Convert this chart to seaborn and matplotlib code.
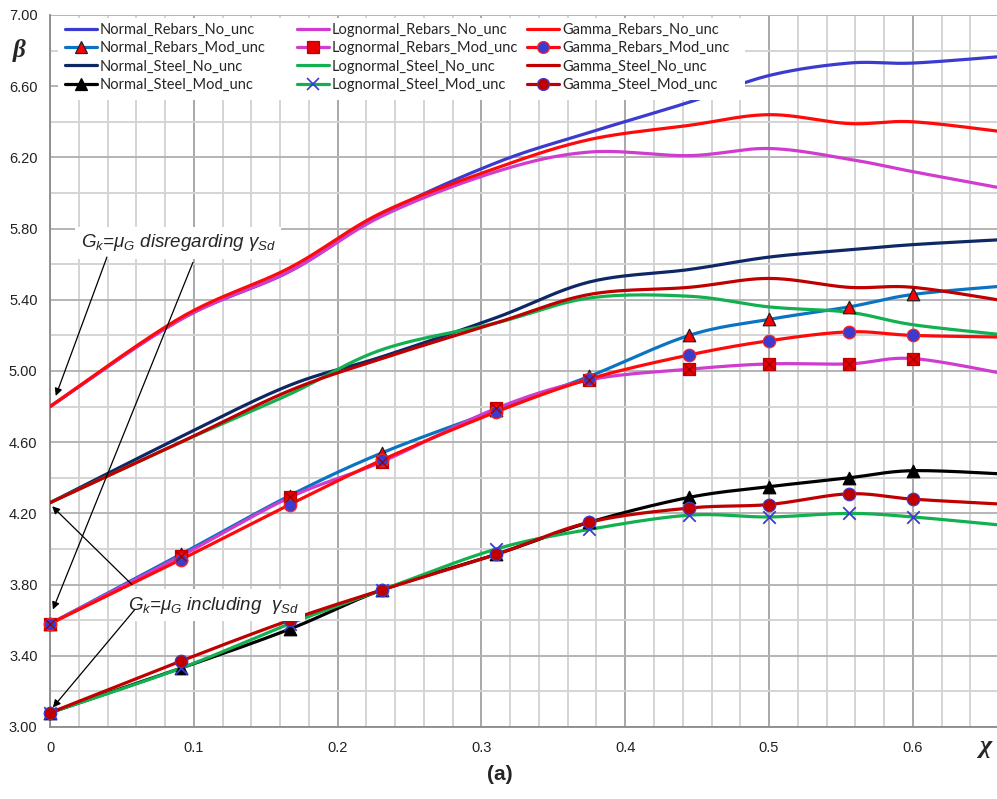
import numpy as np
import seaborn as sns
import matplotlib.pyplot as plt
from matplotlib.lines import Line2D
from matplotlib.patches import Rectangle
from matplotlib.ticker import MultipleLocator, FormatStrFormatter

# chi = Qk / (Gk + Qk)
chi = [0, 0.0909, 0.1667, 0.2308, 0.3103, 0.375, 0.4444, 0.5, 0.5556, 0.6, 0.6667]

normal_rebars_no = [4.80, 5.29, 5.56, 5.88, 6.17, 6.34, 6.51, 6.66, 6.73, 6.73, 6.77]
normal_rebars_mod = [3.58, 3.97, 4.30, 4.54, 4.78, 4.97, 5.20, 5.29, 5.36, 5.43, 5.48]
normal_steel_no = [4.26, 4.63, 4.92, 5.08, 5.30, 5.50, 5.57, 5.64, 5.68, 5.71, 5.74]
normal_steel_mod = [3.08, 3.33, 3.55, 3.77, 3.97, 4.15, 4.29, 4.35, 4.40, 4.44, 4.42]

lognormal_rebars_no = [4.80, 5.29, 5.56, 5.87, 6.12, 6.23, 6.21, 6.25, 6.19, 6.12, 6.02]
lognormal_rebars_mod = [3.58, 3.96, 4.29, 4.49, 4.79, 4.95, 5.01, 5.04, 5.04, 5.07, 4.98]
lognormal_steel_no = [4.26, 4.60, 4.87, 5.12, 5.27, 5.41, 5.42, 5.36, 5.33, 5.26, 5.20]
lognormal_steel_mod = [3.08, 3.33, 3.58, 3.77, 4.00, 4.11, 4.19, 4.18, 4.20, 4.18, 4.13]

gamma_rebars_no = [4.80, 5.30, 5.58, 5.89, 6.14, 6.30, 6.38, 6.44, 6.39, 6.40, 6.34]
gamma_rebars_mod = [3.58, 3.94, 4.25, 4.50, 4.77, 4.955, 5.09, 5.17, 5.22, 5.20, 5.19]
gamma_steel_no = [4.26, 4.60, 4.89, 5.07, 5.27, 5.43, 5.47, 5.52, 5.47, 5.47, 5.39]
gamma_steel_mod = [3.08, 3.37, 3.60, 3.77, 3.97, 4.15, 4.23, 4.25, 4.31, 4.28, 4.25]

y_ticks = [3.0, 3.4, 3.8, 4.2, 4.6, 5.0, 5.4, 5.8, 6.2, 6.6, 7.0]

labels = ['Normal_Rebars_No_unc', 'Normal_Rebars_Mod_unc', 'Normal_Steel_No_unc', 'Normal_Steel_Mod_unc',
          'Lognormal_Rebars_No_unc', 'Lognormal_Rebars_Mod_unc', 'Lognormal_Steel_No_unc', 'Lognormal_Steel_Mod_unc',
          'Gamma_Rebars_No_unc', 'Gamma_Rebars_Mod_unc', 'Gamma_Steel_No_unc', 'Gamma_Steel_Mod_unc']
values = [normal_rebars_no, normal_rebars_mod, normal_steel_no, normal_steel_mod,
          lognormal_rebars_no, lognormal_rebars_mod, lognormal_steel_no, lognormal_steel_mod,
          gamma_rebars_no, gamma_rebars_mod, gamma_steel_no, gamma_steel_mod]

BLUE = '#3B3BCF'
# (line colour, marker, marker face, marker edge, marker size)
styles = [
    (BLUE, None, None, None, 0),
    ('#0A74C2', '^', '#FF0000', '#222222', 9),
    ('#0E2866', None, None, None, 0),
    ('#000000', '^', '#000000', '#000000', 9),
    ('#D03CCF', None, None, None, 0),
    ('#D03CCF', 's', '#E80000', '#C00000', 9),
    ('#12B050', None, None, None, 0),
    ('#12B050', 'x', BLUE, BLUE, 9),
    ('#FF0A0A', None, None, None, 0),
    ('#FF0A0A', 'o', BLUE, '#FF2020', 9),
    ('#C00000', None, None, None, 0),
    ('#C00000', 'o', '#C00000', BLUE, 9),
]


def smooth(x, y, n=25):
    # excel-like smoothed line (bezier through points)
    pts = np.column_stack([x, y]).astype(float)
    p = np.vstack([pts[0], pts, pts[-1]])
    t = np.linspace(0, 1, n)[:, None]
    out = []
    for i in range(1, len(p) - 2):
        p0, p1, p2, p3 = p[i - 1], p[i], p[i + 1], p[i + 2]
        c1 = p1 + (p2 - p0) / 6
        c2 = p2 - (p3 - p1) / 6
        seg = (1 - t) ** 3 * p1 + 3 * (1 - t) ** 2 * t * c1 + 3 * (1 - t) * t ** 2 * c2 + t ** 3 * p2
        out.append(seg if i == 1 else seg[1:])
    return np.vstack(out)


sns.set_style('white')
plt.rcParams['font.family'] = ['Liberation Sans', 'DejaVu Sans']
plt.rcParams['mathtext.fontset'] = 'custom'
plt.rcParams['mathtext.it'] = 'Liberation Sans:italic'
plt.rcParams['mathtext.rm'] = 'Liberation Sans'

fig = plt.figure(figsize=(9.97, 7.99), dpi=100)
ax = fig.add_axes([50 / 997, 72 / 799, 947 / 997, 712 / 799])

handles = []
for lab, vals, (col, mk, mfc, mec, ms) in zip(labels, values, styles):
    curve = smooth(chi, vals)
    sns.lineplot(x=curve[:, 0], y=curve[:, 1], sort=False, estimator=None, color=col, lw=2.3, ax=ax, zorder=3)
    if mk:
        if mk == 'x':
            sns.scatterplot(x=chi, y=vals, marker='x', s=ms ** 2, color=mfc, linewidth=1.3, ax=ax,
                            zorder=4, clip_on=False)
        else:
            sns.scatterplot(x=chi, y=vals, marker=mk, s=ms ** 2, color=mfc, edgecolor=mec, linewidth=0.9,
                            ax=ax, zorder=4, clip_on=False)
            if mk == 's':
                sns.scatterplot(x=chi, y=vals, marker='x', s=(ms * 0.8) ** 2, color='#A00000', linewidth=1.0,
                                ax=ax, zorder=5, clip_on=False)
    handles.append(Line2D([], [], color=col, lw=2.3, marker=mk, markersize=ms * 0.95 if mk else 0,
                          markerfacecolor=mfc, markeredgecolor=mec, markeredgewidth=1.2 if mk == 'x' else 0.9))

ax.set_xlim(0, 0.6585)
ax.set_ylim(3.0, 7.0)
ax.xaxis.set_major_locator(MultipleLocator(0.1))
ax.xaxis.set_minor_locator(MultipleLocator(0.02))
ax.set_yticks(y_ticks)
ax.yaxis.set_minor_locator(MultipleLocator(0.2))
ax.xaxis.set_major_formatter(FormatStrFormatter('%g'))
ax.yaxis.set_major_formatter(FormatStrFormatter('%.2f'))
ax.grid(which='major', axis='x', color='#a8a8a8', lw=1.4)
ax.grid(which='minor', axis='x', color='#d4d4d4', lw=1.4)
ax.grid(which='major', axis='y', color='#b4b4b4', lw=1.4)
ax.grid(which='minor', axis='y', color='#d4d4d4', lw=1.4)
ax.set_axisbelow(True)
for s in ['top', 'right']:
    ax.spines[s].set_visible(False)
for s in ['left', 'bottom']:
    ax.spines[s].set_color('#8a8a8a')
    ax.spines[s].set_linewidth(1.3)
ax.tick_params(axis='both', which='both', direction='out', color='#8a8a8a', length=5, width=1.1,
               labelsize=10.5, labelcolor='#222222')
ax.tick_params(axis='x', which='both', pad=5)
ax.tick_params(axis='y', which='minor', length=0)
ax.tick_params(axis='y', pad=4)
ax.set_xlabel('')
ax.set_ylabel('')

# legend: white box with three columns
ax.add_patch(Rectangle((0.0084, 0.8806), 0.7255, 0.1152, transform=ax.transAxes, facecolor='white',
                       edgecolor='none', zorder=5.5))
for k, x0 in enumerate([0.0158, 0.2608, 0.5037]):
    leg = ax.legend(handles[4 * k:4 * k + 4], labels[4 * k:4 * k + 4], loc='upper left',
                    bbox_to_anchor=(x0, 0.989), prop={'family': 'Lato', 'size': 10.5}, frameon=False,
                    handlelength=2.2, handletextpad=0.2, labelspacing=0.3, borderpad=0, borderaxespad=0)
    leg.set_zorder(6)
    if k < 2:
        ax.add_artist(leg)

box = dict(facecolor='white', edgecolor='none', pad=4)
ax.text(0.089, 5.72, r'$G_k$=$\mu_G$ disregarding $\gamma_{Sd}$', style='italic', fontsize=13.5,
        ha='center', va='center', bbox=box, zorder=7)
ax.text(0.114, 3.685, r'$G_k$=$\mu_G$ including  $\gamma_{Sd}$', style='italic', fontsize=13.5,
        ha='center', va='center', bbox=box, zorder=7)

arrows = [((0.0396, 5.64), (0.004, 4.86)),
          ((0.0994, 5.61), (0.002, 3.66)),
          ((0.0570, 3.80), (0.0015, 4.24)),
          ((0.0590, 3.66), (0.002, 3.11))]
for tail, head in arrows:
    ax.annotate('', xy=head, xytext=tail,
                arrowprops=dict(arrowstyle='-|>', color='black', lw=0.9, mutation_scale=11,
                                shrinkA=0, shrinkB=0), zorder=7)

fig.text(19 / 997, 1 - 50 / 799, 'β', fontsize=18, fontweight='bold', style='italic', ha='center',
         va='center', family='Liberation Serif')
fig.text(985 / 997, 1 - 746 / 799, 'χ', fontsize=19, fontweight='bold', style='italic', ha='center',
         va='center', family='Liberation Serif')
fig.text(500 / 997, 1 - 775 / 799, '(a)', fontsize=15, fontweight='bold', ha='center', va='center')

plt.savefig('out.png', dpi=100)
